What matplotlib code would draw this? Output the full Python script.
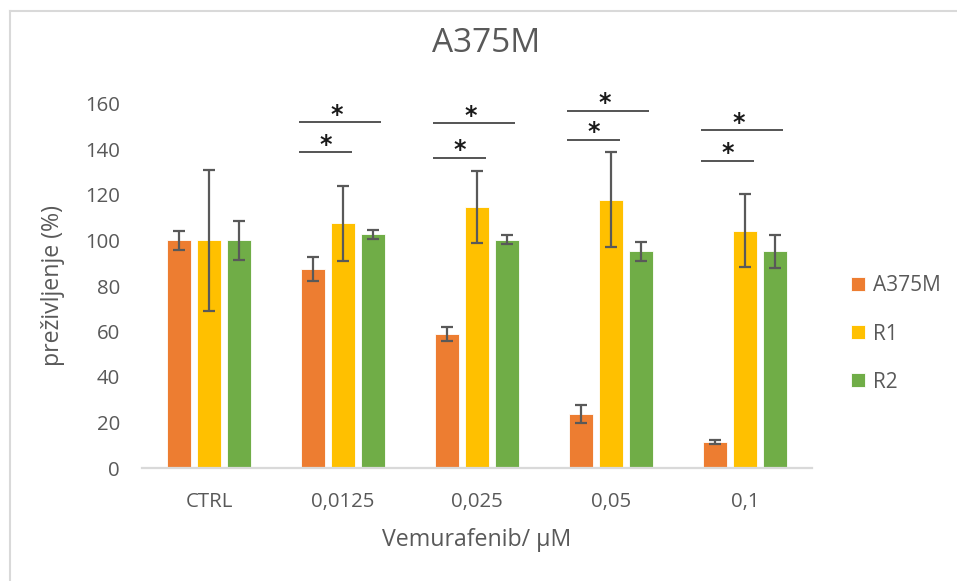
import matplotlib.pyplot as plt
from matplotlib.lines import Line2D
import numpy as np

plt.rcParams['font.family'] = ['Open Sans', 'DejaVu Sans']

# --- data ---
categories = ["CTRL", "0,0125", "0,025", "0,05", "0,1"]
series_names = ["A375M", "R1", "R2"]

a375m = [100, 87.5, 59.0, 23.8, 11.3]
a375m_err = [4.0, 5.3, 3.0, 3.8, 0.8]
r1 = [100, 107.5, 114.7, 118.0, 104.3]
r1_err = [31.0, 16.5, 15.8, 21.0, 16.0]
r2 = [100, 102.7, 100.4, 95.2, 95.3]
r2_err = [8.7, 2.0, 1.8, 4.2, 7.2]

# significance bars (A375M vs R2 upper, A375M vs R1 lower), CTRL has none
sig_upper = [None, 152.0, 151.5, 156.9, 148.4]
sig_lower = [None, 138.8, 136.4, 144.2, 135.1]

colors = ["#ED7D31", "#FFC000", "#70AD47"]
text_col = "#595959"


def draw():
    fig = plt.figure(figsize=(9.57, 5.81), dpi=100)
    ax = fig.add_axes([142 / 957, 113 / 581, 670 / 957, 364 / 581])

    x = np.arange(len(categories))
    step = 0.222
    width = 0.176
    values = [a375m, r1, r2]
    errors = [a375m_err, r1_err, r2_err]

    for i, (vals, errs) in enumerate(zip(values, errors)):
        pos = x + (i - 1) * step
        ax.bar(pos, vals, width=width, color=colors[i], edgecolor="white",
               linewidth=0.6, label=series_names[i], zorder=2)
        ax.errorbar(pos, vals, yerr=errs, fmt="none", ecolor=text_col,
                    elinewidth=1.6, capsize=4.5, capthick=1.6, zorder=3)

    # lines with stars
    for i in range(len(categories)):
        if sig_upper[i] is None:
            continue
        x0 = x[i] - 0.33
        x_up = x[i] + 0.28
        x_lo = x[i] + 0.07
        ax.plot([x0, x_up], [sig_upper[i]] * 2, color="#262626", lw=1.1,
                solid_capstyle="butt", clip_on=False)
        ax.plot([x0, x_lo], [sig_lower[i]] * 2, color="#262626", lw=1.1,
                solid_capstyle="butt", clip_on=False)
        ax.text((x0 + x_up) / 2 - 0.02, sig_upper[i] + 0.3, "*", ha="center",
                va="baseline", fontsize=17, fontweight="bold", color="#1a1a1a",
                family="DejaVu Sans", clip_on=False)
        ax.text((x0 + x_lo) / 2, sig_lower[i] + 0.3, "*", ha="center",
                va="baseline", fontsize=17, fontweight="bold", color="#1a1a1a",
                family="DejaVu Sans", clip_on=False)

    ax.set_xlim(-0.5, len(categories) - 0.5)
    ax.set_ylim(0, 160)
    ax.set_yticks(range(0, 161, 20))
    ax.set_xticks(x)
    ax.set_xticklabels(categories)

    for s in ["left", "right", "top"]:
        ax.spines[s].set_visible(False)
    ax.spines["bottom"].set_color("#d9d9d9")
    ax.spines["bottom"].set_linewidth(1.6)
    ax.tick_params(axis="y", length=0, pad=16, labelsize=14.7, labelcolor=text_col)
    ax.tick_params(axis="x", length=0, pad=17, labelsize=14.7, labelcolor=text_col)

    ax.set_xlabel("Vemurafenib/ µM", fontsize=16.7, color=text_col, labelpad=12)
    ax.set_ylabel("preživljenje (%)", fontsize=16.7, color=text_col, labelpad=14)

    fig.text(486.5 / 957, 1 - 52 / 581, "A375M", ha="center", va="baseline",
             fontsize=24, color=text_col)

    leg = fig.legend(loc="center left", bbox_to_anchor=(851 / 957, 1 - 334 / 581),
                     frameon=False, fontsize=15, handlelength=0.65,
                     handleheight=0.65, handletextpad=0.4, labelspacing=1.3,
                     borderpad=0, borderaxespad=0)
    for t in leg.get_texts():
        t.set_color(text_col)

    # chart area border (only top and left visible in the crop)
    fig.add_artist(Line2D([10 / 957, 1], [1 - 11 / 581] * 2, color="#d9d9d9",
                          lw=1.5, transform=fig.transFigure))
    fig.add_artist(Line2D([10 / 957] * 2, [0, 1 - 11 / 581], color="#d9d9d9",
                          lw=1.5, transform=fig.transFigure))

    fig.savefig("out.png", dpi=100)
    plt.close(fig)


if __name__ == "__main__":
    draw()
